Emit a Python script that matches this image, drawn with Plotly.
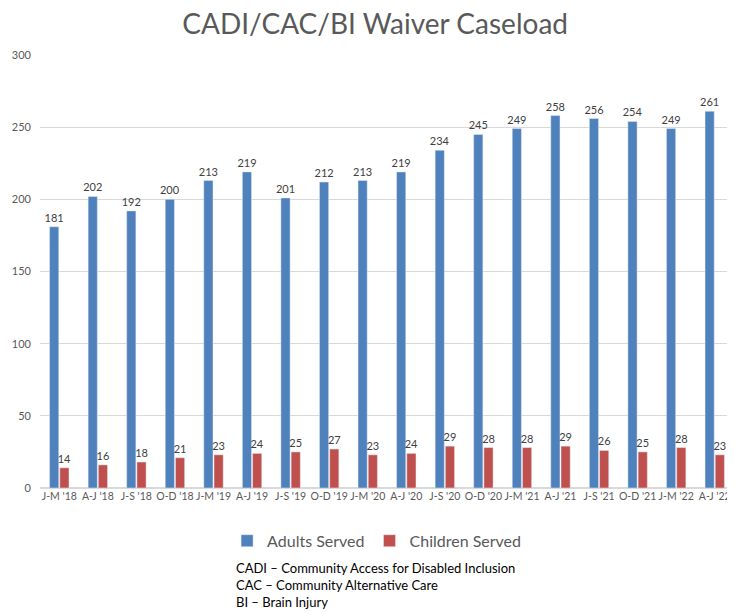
import plotly.graph_objects as go

# Quarterly caseload
quarters = ["J-M '18", "A-J '18", "J-S '18", "O-D '18", "J-M '19", "A-J '19", "J-S '19", "O-D '19",
            "J-M '20", "A-J '20", "J-S '20", "O-D '20", "J-M '21", "A-J '21", "J-S '21", "O-D '21",
            "J-M '22", "A-J '22"]
adults = [181, 202, 192, 200, 213, 219, 201, 212, 213, 219, 234, 245, 249, 258, 256, 254, 249, 261]
children = [14, 16, 18, 21, 23, 24, 25, 27, 23, 24, 29, 28, 28, 29, 26, 25, 28, 23]

FONT = "Lato, 'Open Sans', sans-serif"

fig = go.Figure()
fig.add_trace(go.Bar(x=quarters, y=adults, name="Adults Served", marker_color="#4f81bd",
                     text=adults, textposition="outside", cliponaxis=False, constraintext="none",
                     textfont=dict(size=11, color="#404040")))
fig.add_trace(go.Bar(x=quarters, y=children, name="Children Served", marker_color="#c0504d",
                     text=children, textposition="outside", cliponaxis=False, constraintext="none",
                     textfont=dict(size=11, color="#404040")))

# page body has an 8px margin, so the figure is a bit smaller than the window
fig.update_layout(
    width=727, height=604,
    barmode="group", bargap=0.47, bargroupgap=0.1,
    paper_bgcolor="white", plot_bgcolor="white",
    font=dict(family=FONT, color="#595959"),
    title=dict(text="CADI/CAC/BI Waiver Caseload", x=0.505, xanchor="center", y=0.974, yanchor="middle",
               font=dict(size=28, color="#595959")),
    margin=dict(l=32, r=1, t=47, b=124, autoexpand=False),
    legend=dict(orientation="h", x=0.485, xanchor="center", yref="container", y=0.146, yanchor="top",
                font=dict(size=16, color="#595959")),
    yaxis=dict(range=[0, 300], dtick=50, gridcolor="#d9d9d9", zeroline=True, zerolinecolor="#d9d9d9",
               tickfont=dict(size=11, color="#595959"), ticks="", ticklabelstandoff=8),
    xaxis=dict(tickfont=dict(size=10.5, color="#595959"), tickangle=0, showline=False),
)

fig.add_annotation(text="CADI – Community Access for Disabled Inclusion<br>CAC – Community Alternative Care<br>BI – Brain Injury",
                   xref="paper", yref="paper", x=0.28, y=-0.162, xanchor="left", yanchor="top",
                   align="left", showarrow=False, font=dict(size=13, color="#000000", family=FONT))

fig.write_html("out.html")
